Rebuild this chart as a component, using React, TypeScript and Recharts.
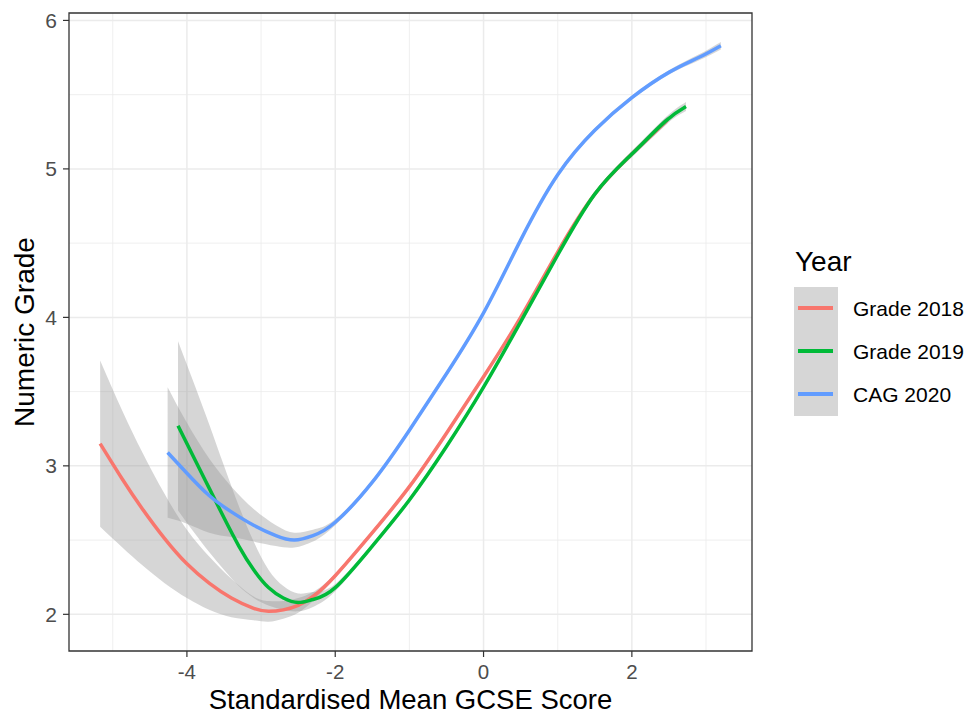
import React from 'react';
import { ComposedChart, Line, Area, XAxis, YAxis, CartesianGrid, ReferenceArea, Label } from 'recharts';

// ---- axes ----
const xTicks = [-4, -2, 0, 2];
const xMinor = [-5, -3, -1, 1, 3];
const yTicks = [2, 3, 4, 5, 6];
const yMinor = [2.5, 3.5, 4.5, 5.5];
const xDomain = [-5.59, 3.62];
const yDomain = [1.753, 6.05];

const xTitle = 'Standardised Mean GCSE Score';
const yTitle = 'Numeric Grade';
const legendTitle = 'Year';

const seriesNames = ['Grade 2018', 'Grade 2019', 'CAG 2020'];
const seriesColors = ['#F8766D', '#00BA38', '#619CFF'];

// ---- Grade 2018 ----
const x2018 = [-5.17, -4.87, -4.6, -4.3, -4.0, -3.7, -3.4, -3.1, -2.9, -2.7, -2.5, -2.3, -2.0, -1.5, -1.0, -0.5, 0, 0.5, 1.0, 1.5, 2.0, 2.48];
const y2018 = [3.15, 2.91, 2.71, 2.51, 2.34, 2.21, 2.11, 2.04, 2.02, 2.03, 2.06, 2.12, 2.26, 2.55, 2.86, 3.22, 3.60, 4.00, 4.44, 4.83, 5.10, 5.33];
const lo2018 = [2.59, 2.45, 2.33, 2.21, 2.11, 2.03, 1.98, 1.96, 1.95, 1.97, 2.01, 2.09, 2.245, 2.535, 2.845, 3.205, 3.585, 3.985, 4.425, 4.815, 5.08, 5.305];
const hi2018 = [3.71, 3.37, 3.09, 2.81, 2.57, 2.39, 2.24, 2.12, 2.09, 2.09, 2.11, 2.15, 2.275, 2.565, 2.875, 3.235, 3.615, 4.015, 4.455, 4.845, 5.12, 5.355];

// ---- Grade 2019 ----
const x2019 = [-4.12, -3.9, -3.7, -3.5, -3.3, -3.1, -2.9, -2.7, -2.5, -2.3, -2.0, -1.5, -1.0, -0.5, 0, 0.5, 1.0, 1.5, 2.0, 2.45, 2.73];
const y2019 = [3.27, 3.05, 2.85, 2.65, 2.46, 2.30, 2.18, 2.11, 2.08, 2.10, 2.18, 2.46, 2.77, 3.13, 3.53, 3.97, 4.42, 4.83, 5.10, 5.32, 5.42];
const lo2019 = [2.70, 2.55, 2.42, 2.30, 2.19, 2.11, 2.06, 2.03, 2.02, 2.05, 2.155, 2.445, 2.755, 3.115, 3.515, 3.955, 4.405, 4.815, 5.08, 5.295, 5.39];
const hi2019 = [3.84, 3.55, 3.28, 3.00, 2.73, 2.49, 2.30, 2.19, 2.14, 2.15, 2.205, 2.475, 2.785, 3.145, 3.545, 3.985, 4.435, 4.845, 5.12, 5.345, 5.45];

// ---- CAG 2020 ----
const x2020 = [-4.26, -4.0, -3.7, -3.4, -3.1, -2.8, -2.55, -2.3, -2.0, -1.5, -1.0, -0.5, 0, 0.5, 1.0, 1.5, 2.0, 2.5, 2.9, 3.2];
const y2020 = [3.09, 2.95, 2.80, 2.69, 2.60, 2.53, 2.50, 2.53, 2.62, 2.89, 3.24, 3.62, 4.03, 4.52, 4.96, 5.26, 5.48, 5.65, 5.75, 5.83];
const lo2020 = [2.65, 2.61, 2.55, 2.52, 2.49, 2.46, 2.45, 2.49, 2.60, 2.875, 3.225, 3.605, 4.015, 4.505, 4.945, 5.245, 5.465, 5.635, 5.73, 5.805];
const hi2020 = [3.53, 3.29, 3.05, 2.86, 2.71, 2.60, 2.55, 2.57, 2.64, 2.905, 3.255, 3.635, 4.045, 4.535, 4.975, 5.275, 5.495, 5.665, 5.77, 5.855];

const build = (xs: number[], ys: number[], lo: number[], hi: number[]) =>
  xs.map((x, i) => ({ x, y: ys[i], band: [lo[i], hi[i]] }));

const seriesData = [
  build(x2018, y2018, lo2018, hi2018),
  build(x2019, y2019, lo2019, hi2019),
  build(x2020, y2020, lo2020, hi2020),
];

const FONT = '"Liberation Sans", Arial, Helvetica, sans-serif';
const W = 964;
const H = 707;

const XTitle = (props: any) => {
  const vb = props.viewBox || {};
  return (
    <text x={vb.x + vb.width / 2} y={701} textAnchor="middle" fontSize={27.5} fill="#000" fontFamily={FONT}>
      {xTitle}
    </text>
  );
};

const YTitle = (props: any) => {
  const vb = props.viewBox || {};
  const cy = vb.y + vb.height / 2;
  const cx = 26;
  return (
    <text x={cx} y={cy} transform={`rotate(-90, ${cx}, ${cy})`} textAnchor="middle" fontSize={28} fill="#000" fontFamily={FONT}>
      {yTitle}
    </text>
  );
};

export default function App() {
  const elems: React.ReactNode[] = [];
  seriesData.forEach((d, i) => {
    elems.push(
      <Area
        key={`a${i}`}
        data={d}
        dataKey="band"
        type="natural"
        fill="#999999"
        fillOpacity={0.4}
        stroke="none"
        isAnimationActive={false}
        legendType="none"
        activeDot={false}
      />
    );
    elems.push(
      <Line
        key={`l${i}`}
        data={d}
        dataKey="y"
        type="natural"
        stroke={seriesColors[i]}
        strokeWidth={3.5}
        dot={false}
        activeDot={false}
        isAnimationActive={false}
        name={seriesNames[i]}
      />
    );
  });

  return (
    <div style={{ position: 'relative', width: W, height: H, fontFamily: FONT }}>
      <ComposedChart width={W} height={H} margin={{ top: 5, right: 220, bottom: 0, left: 0 }}>
        <CartesianGrid stroke="#EBEBEB" strokeWidth={0.8} verticalValues={xMinor} horizontalValues={yMinor} />
        <CartesianGrid stroke="#EBEBEB" strokeWidth={1.5} verticalValues={xTicks} horizontalValues={yTicks} />
        <XAxis
          type="number"
          dataKey="x"
          domain={xDomain}
          ticks={xTicks}
          allowDataOverflow
          height={64}
          axisLine={false}
          tickLine={{ stroke: '#333333', strokeWidth: 1.2 }}
          tickSize={6}
          tickMargin={7}
          tick={{ fill: '#4D4D4D', fontSize: 20.5, fontFamily: FONT }}
        >
          <Label content={<XTitle />} />
        </XAxis>
        <YAxis
          type="number"
          domain={yDomain}
          ticks={yTicks}
          allowDataOverflow
          width={61}
          axisLine={false}
          tickLine={{ stroke: '#333333', strokeWidth: 1.2 }}
          tickSize={6}
          tickMargin={6}
          tick={{ fill: '#4D4D4D', fontSize: 21, fontFamily: FONT }}
        >
          <Label content={<YTitle />} />
        </YAxis>
        {elems}
        <ReferenceArea
          x1={xDomain[0]}
          x2={xDomain[1]}
          y1={yDomain[0]}
          y2={yDomain[1]}
          fill="none"
          stroke="#333333"
          strokeWidth={1.3}
          ifOverflow="visible"
        />
      </ComposedChart>
      <svg width={W} height={H} style={{ position: 'absolute', left: 0, top: 0, pointerEvents: 'none' }}>
        <text x={787} y={263} fontSize={28} fill="#000" fontFamily={FONT}>{legendTitle}</text>
        <rect x={786} y={279} width={44} height={129} fill="#D6D6D6" />
        {seriesNames.map((n, i) => (
          <g key={n}>
            <line x1={790} x2={825} y1={300 + 43 * i} y2={300 + 43 * i} stroke={seriesColors[i]} strokeWidth={4} />
            <text x={845} y={308 + 43 * i} fontSize={21} fill="#000" fontFamily={FONT}>{n}</text>
          </g>
        ))}
      </svg>
    </div>
  );
}
